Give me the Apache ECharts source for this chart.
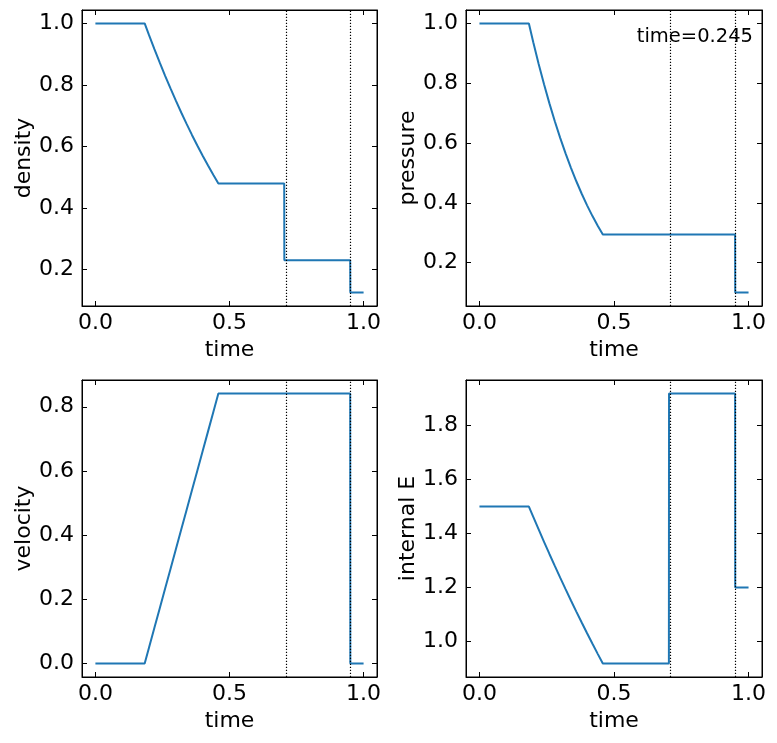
<!DOCTYPE html>
<html>
<head>
<meta charset="utf-8">
<script src="https://cdn.jsdelivr.net/npm/echarts@6/dist/echarts.min.js"></script>
<style>
html,body{margin:0;padding:0;background:#fff;}
#chart{width:777px;height:743px;}
</style>
</head>
<body>
<div id="chart"></div>
<script>
// position samples (x)
var positions = [0, 0.1837, 0.20, 0.22, 0.24, 0.26, 0.28, 0.30, 0.32, 0.34, 0.36, 0.38, 0.40, 0.42, 0.44, 0.4585, 0.704, 0.7045, 0.950, 0.9505, 1.0];
var density  = [1.0, 1.0, 0.9619, 0.9164, 0.8724, 0.8298, 0.7886, 0.7488, 0.7104, 0.6733, 0.6375, 0.6030, 0.5698, 0.5378, 0.5071, 0.4797, 0.4797, 0.2298, 0.2298, 0.125, 0.125];
var pressure = [1.0, 1.0, 0.9372, 0.8646, 0.7965, 0.7327, 0.6731, 0.6175, 0.5656, 0.5172, 0.4722, 0.4304, 0.3916, 0.3557, 0.3224, 0.2939, 0.2939, 0.2939, 0.2939, 0.1, 0.1];
var velocity = [0.0, 0.0, 0.0499, 0.1111, 0.1723, 0.2335, 0.2948, 0.3560, 0.4172, 0.4784, 0.5397, 0.6009, 0.6621, 0.7233, 0.7846, 0.8413, 0.8413, 0.8413, 0.8413, 0.0, 0.0];
var internalE = [1.5, 1.5, 1.4616, 1.4152, 1.3695, 1.3245, 1.2804, 1.2369, 1.1942, 1.1523, 1.1111, 1.0707, 1.0310, 0.9920, 0.9538, 0.9191, 0.9191, 1.9184, 1.9184, 1.2, 1.2];
// wave markers (contact, shock)
var waveMarkers = [0.7061, 0.9512];
var timeLabel = 'time=0.245';
// tick labels
var xTicks = [0.0, 0.5, 1.0];
var densityTicks = [0.2, 0.4, 0.6, 0.8, 1.0];
var pressureTicks = [0.2, 0.4, 0.6, 0.8, 1.0];
var velocityTicks = [0.0, 0.2, 0.4, 0.6, 0.8];
var energyTicks = [1.0, 1.2, 1.4, 1.6, 1.8];

var FONT = 'DejaVu Sans';
var chart = echarts.init(document.getElementById('chart'), null, {renderer:'canvas'});

function pairs(xs, ys){ var r=[]; for(var i=0;i<xs.length;i++) r.push([xs[i], ys[i]]); return r; }

var panels = [
  {name:'density', ys:density, ticks:densityTicks, min:0.08125, max:1.04375, grid:{left:82, top:10, width:295, height:296}},
  {name:'pressure', ys:pressure, ticks:pressureTicks, min:0.055, max:1.045, grid:{left:466, top:10, width:296, height:296}},
  {name:'velocity', ys:velocity, ticks:velocityTicks, min:-0.04207, max:0.88337, grid:{left:82, top:380, width:295, height:297}},
  {name:'internal E', ys:internalE, ticks:energyTicks, min:0.8691, max:1.9684, grid:{left:466, top:380, width:296, height:297}}
];

var grids=[], xAxes=[], yAxes=[], series=[];
var axisLine = {show:true, onZero:false, lineStyle:{color:'#000', width:1}};
var tick = function(vals){ return {show:true, inside:true, length:5, lineStyle:{color:'#000', width:1}, customValues:vals}; };

panels.forEach(function(p, i){
  var g = Object.assign({show:true, borderColor:'#000', borderWidth:1, backgroundColor:'transparent'}, p.grid);
  grids.push(g);
  xAxes.push({type:'value', gridIndex:i, position:'bottom', min:-0.05, max:1.05,
    axisLine:axisLine, axisTick:tick(xTicks), splitLine:{show:false},
    axisLabel:{show:true, customValues:xTicks, color:'#000', fontFamily:FONT, fontSize:22, margin:6,
      formatter:function(v){return v.toFixed(1);}},
    name:'time', nameLocation:'middle', nameGap:33,
    nameTextStyle:{color:'#000', fontFamily:FONT, fontSize:22}});
  xAxes.push({type:'value', gridIndex:i, position:'top', min:-0.05, max:1.05,
    axisLine:axisLine, axisTick:tick(xTicks), splitLine:{show:false}, axisLabel:{show:false}});
  yAxes.push({type:'value', gridIndex:i, position:'left', min:p.min, max:p.max,
    axisLine:axisLine, axisTick:tick(p.ticks), splitLine:{show:false},
    axisLabel:{show:true, customValues:p.ticks, color:'#000', fontFamily:FONT, fontSize:22, margin:8,
      formatter:function(v){return v.toFixed(1);}},
    name:p.name, nameLocation:'middle', nameGap:47, nameRotate:90,
    nameTextStyle:{color:'#000', fontFamily:FONT, fontSize:22}});
  yAxes.push({type:'value', gridIndex:i, position:'right', min:p.min, max:p.max,
    axisLine:axisLine, axisTick:tick(p.ticks), splitLine:{show:false}, axisLabel:{show:false}});
  series.push({type:'line', xAxisIndex:2*i, yAxisIndex:2*i, data:pairs(positions, p.ys),
    showSymbol:false, symbol:'none', lineStyle:{color:'#1f77b4', width:2}, z:3,
    markLine:{silent:true, symbol:['none','none'], label:{show:false},
      lineStyle:{color:'#000', type:[1.2,1.8], width:1.2},
      data: waveMarkers.map(function(v){return {xAxis:v};})}});
});

chart.setOption({
  animation:false,
  backgroundColor:'#fff',
  grid:grids, xAxis:xAxes, yAxis:yAxes, series:series,
  graphic:[{type:'text', right:24, top:27, style:{text:timeLabel, fontFamily:FONT, fontSize:19.5, fill:'#000'}}]
});
</script>
</body>
</html>
